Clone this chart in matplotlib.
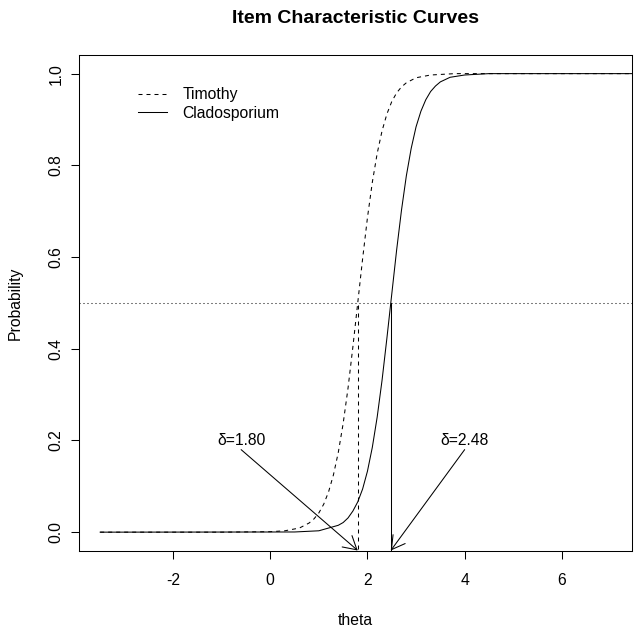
import matplotlib
matplotlib.use("Agg")
import matplotlib.pyplot as plt

plt.rcParams['font.family'] = ['Liberation Sans', 'DejaVu Sans']
plt.rcParams['axes.unicode_minus'] = False

# ============================================================
# data
# ============================================================
theta_timothy = [-3.5, -1.0, 0.0, 0.3, 0.6,
                 0.8, 0.9, 1.0, 1.1, 1.2, 1.3, 1.4, 1.5, 1.6, 1.7, 1.8,
                 1.9, 2.0, 2.1, 2.2, 2.3, 2.4, 2.5, 2.6, 2.7, 2.8,
                 3.0, 3.3, 3.8, 7.45]
p_timothy = [0.0, 0.0, 0.001, 0.003, 0.009,
             0.020, 0.029, 0.042, 0.061, 0.088, 0.125, 0.174, 0.237, 0.314, 0.404, 0.500,
             0.596, 0.686, 0.763, 0.826, 0.875, 0.912, 0.939, 0.958, 0.971, 0.980,
             0.991, 0.997, 1.0, 1.0]

theta_clado = [-3.5, 0.5, 1.0,
               1.4, 1.5, 1.6, 1.7, 1.8, 1.9, 2.0, 2.1, 2.2, 2.3, 2.4,
               2.5, 2.6, 2.7, 2.8, 2.9, 3.0, 3.1, 3.2, 3.3, 3.4, 3.5,
               3.7, 4.0, 4.5, 7.45]
p_clado = [0.0, 0.0004, 0.003,
           0.015, 0.021, 0.031, 0.046, 0.066, 0.094, 0.133, 0.185, 0.251, 0.331, 0.423,
           0.519, 0.615, 0.702, 0.777, 0.837, 0.884, 0.918, 0.943, 0.961, 0.973, 0.982,
           0.992, 0.997, 1.0, 1.0]

items = ['Timothy', 'Cladosporium']
difficulty = [1.80, 2.48]
label_x = [-0.6, 4.0]
label_y = 0.2
arrow_y = 0.18

xticks = [-2, 0, 2, 4, 6]
yticks = [0.0, 0.2, 0.4, 0.6, 0.8, 1.0]
xlim = (-3.93, 7.45)
ylim = (-0.04, 1.04)

# ============================================================
# plot
# ============================================================
fig = plt.figure(figsize=(6.42, 6.34), dpi=100)
ax = fig.add_axes([0.1235, 0.1317, 0.8614, 0.7811])

lw = 0.75
dash = (0, (3.84, 3.84))
dot = (0, (0.96, 2.88))

ax.plot(theta_timothy, p_timothy, color='black', lw=lw, linestyle=dash, label=items[0])
ax.plot(theta_clado, p_clado, color='black', lw=lw, linestyle='-', label=items[1])

# 0.5 reference line
ax.axhline(0.5, color='black', lw=lw, linestyle=dot)

# drop lines at the difficulty values
ax.plot([difficulty[0], difficulty[0]], [ylim[0] - 0.05, 0.5], color='black', lw=lw, linestyle=dash)
ax.plot([difficulty[1], difficulty[1]], [ylim[0] - 0.05, 0.5], color='black', lw=lw, linestyle='-')

# delta labels with arrows
for b, lx in zip(difficulty, label_x):
    ax.text(lx, label_y, f"δ={b:.2f}", ha='center', va='center', fontsize=11.3)
    ax.annotate('', xy=(b, ylim[0]), xytext=(lx, arrow_y),
                arrowprops=dict(arrowstyle='->,head_length=0.94,head_width=0.54',
                                color='black', lw=lw, shrinkA=0, shrinkB=0,
                                mutation_scale=10))

ax.set_xlim(xlim)
ax.set_ylim(ylim)
ax.set_xticks(xticks)
ax.set_xticklabels([str(t) for t in xticks])
ax.set_yticks(yticks)
ax.set_yticklabels([f"{t:.1f}" for t in yticks], rotation=90, va='center')
ax.tick_params(axis='both', direction='out', length=6.1, width=lw, labelsize=11.3)
ax.tick_params(axis='x', pad=10)
ax.tick_params(axis='y', pad=5.3)
for s in ax.spines.values():
    s.set_linewidth(lw)

ax.set_xlabel('theta', fontsize=11.3)
ax.xaxis.set_label_coords(0.5, -0.127)
ax.set_ylabel('Probability', fontsize=11.3)
ax.yaxis.set_label_coords(-0.102, 0.5)

ax.set_title('Item Characteristic Curves', fontsize=14, fontweight='bold', pad=23)

ax.legend(loc='upper left', bbox_to_anchor=(0.106, 0.9353), frameon=False,
          fontsize=11.3, borderpad=0, borderaxespad=0, handlelength=1.85,
          handletextpad=0.97, labelspacing=0.23)

plt.savefig("out.png", dpi=100)
